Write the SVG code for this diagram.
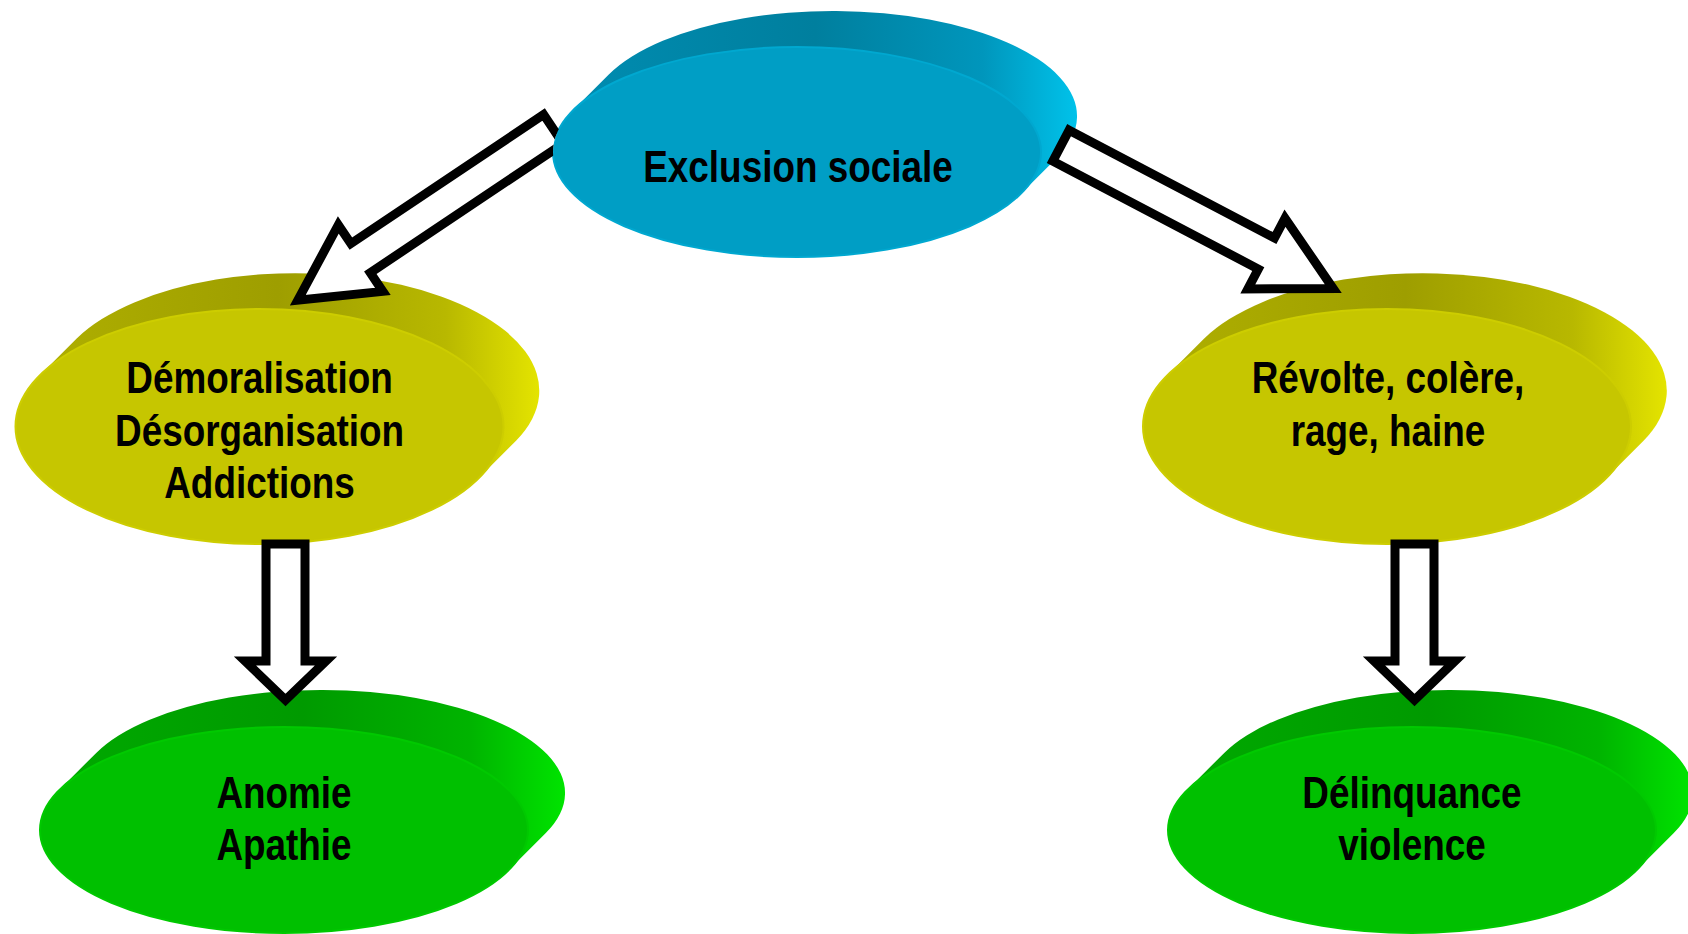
<svg xmlns="http://www.w3.org/2000/svg" width="1688" height="934" viewBox="0 0 1688 934">
<defs>
<style>
.t{font-family:"Liberation Sans",Arial,sans-serif;font-weight:bold;font-size:45px;fill:#000;text-anchor:middle}
.arrow{fill:#fff;stroke:#000;stroke-width:9;stroke-linejoin:miter;stroke-miterlimit:10}
.fb{fill:#009ec5;stroke:#00a8d0;stroke-width:2}
.fy{fill:#c6c600;stroke:#cdcd00;stroke-width:2}
.fg{fill:#00c000;stroke:#00c900;stroke-width:2}
</style>
<linearGradient id="gb" x1="0" y1="0" x2="1" y2="0">
<stop offset="0" stop-color="#008db2"/><stop offset="0.5" stop-color="#007f9e"/><stop offset="0.82" stop-color="#0096bc"/><stop offset="1" stop-color="#00c2ea"/>
</linearGradient>
<linearGradient id="gy" x1="0" y1="0" x2="1" y2="0">
<stop offset="0" stop-color="#b0b000"/><stop offset="0.5" stop-color="#9e9e00"/><stop offset="0.82" stop-color="#b8b800"/><stop offset="1" stop-color="#e4e400"/>
</linearGradient>
<linearGradient id="gg" x1="0" y1="0" x2="1" y2="0">
<stop offset="0" stop-color="#00aa00"/><stop offset="0.5" stop-color="#009a00"/><stop offset="0.82" stop-color="#00b400"/><stop offset="1" stop-color="#00e400"/>
</linearGradient>
<clipPath id="outsideBlue"><path clip-rule="evenodd" d="M0 0H1688V934H0Z M553 152A244 105 0 1 0 1041 152A244 105 0 1 0 553 152Z"/></clipPath>
</defs>
<rect width="1688" height="934" fill="#fff"/>

<g id="node-exclusion">
<path fill="url(#gb)" d="M572.8 110.5A244 105 0 0 0 1021.2 193.5L1057.2 157.5A244 105 0 0 0 608.8 74.5Z"/>
<ellipse class="fb" cx="797" cy="152" rx="244" ry="105"/>
<text class="t" transform="translate(798 0) scale(0.82 1)"><tspan x="0" y="182">Exclusion sociale</tspan></text>
</g>

<g id="node-demoralisation">
<path fill="url(#gy)" d="M39.7 375.5A244 117.5 0 0 0 479.3 477.5L516.3 440.5A244 117.5 0 0 0 76.7 338.5Z"/>
<ellipse class="fy" cx="259.5" cy="426.5" rx="244" ry="117.5"/>
<text class="t" transform="translate(259.5 0) scale(0.82 1)"><tspan x="0" y="393">Démoralisation</tspan><tspan x="0" y="446">Désorganisation</tspan><tspan x="0" y="498.5">Addictions</tspan></text>
</g>

<g id="node-revolte">
<path fill="url(#gy)" d="M1167.2 375.5A244 117.5 0 0 0 1606.8 477.5L1643.8 440.5A244 117.5 0 0 0 1204.2 338.5Z"/>
<ellipse class="fy" cx="1387" cy="426.5" rx="244" ry="117.5"/>
<text class="t" transform="translate(1388 0) scale(0.82 1)"><tspan x="0" y="393">Révolte, colère,</tspan><tspan x="0" y="446">rage, haine</tspan></text>
</g>

<g id="node-anomie">
<path fill="url(#gg)" d="M59.2 789.9A244 103 0 0 0 508.8 870.1L545.8 833.1A244 103 0 0 0 96.2 752.9Z"/>
<ellipse class="fg" cx="284" cy="830" rx="244" ry="103"/>
<text class="t" transform="translate(284 0) scale(0.82 1)"><tspan x="0" y="808">Anomie</tspan><tspan x="0" y="860">Apathie</tspan></text>
</g>

<g id="node-delinquance">
<path fill="url(#gg)" d="M1187.2 789.9A244 103 0 0 0 1636.8 870.1L1673.8 833.1A244 103 0 0 0 1224.2 752.9Z"/>
<ellipse class="fg" cx="1412" cy="830" rx="244" ry="103"/>
<text class="t" transform="translate(1412 0) scale(0.82 1)"><tspan x="0" y="808">Délinquance</tspan><tspan x="0" y="860">violence</tspan></text>
</g>

<g id="connectors">
<g clip-path="url(#outsideBlue)">
<polygon class="arrow" transform="translate(557.1 126.6) rotate(146.2)" points="4.5,-17.5 236.5,-17.5 236.5,-40 312,0 236.5,40 236.5,17.5 4.5,17.5"/>
</g>
<polygon class="arrow" transform="translate(1057 143.6) rotate(27.7)" points="4.5,-17.5 236.5,-17.5 236.5,-40 312,0 236.5,40 236.5,17.5 4.5,17.5"/>
<polygon class="arrow" points="266,544 305,544 305,661 326,661 285.5,700 245,661 266,661"/>
<polygon class="arrow" points="1395,544 1434,544 1434,661 1455,661 1414.5,700 1374,661 1395,661"/>
</g>
</svg>
